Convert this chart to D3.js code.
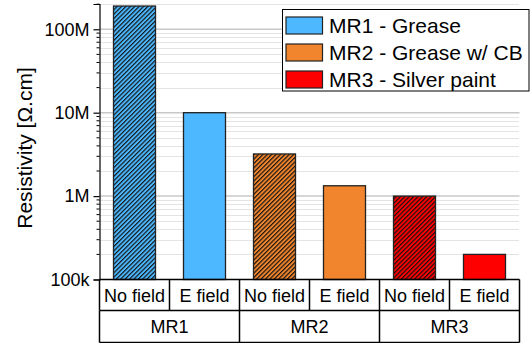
<!DOCTYPE html>
<html>
<head>
<meta charset="utf-8">
<script src="https://cdn.jsdelivr.net/npm/d3@7"></script>
<style>
  html, body { margin: 0; padding: 0; background: #fff; }
  svg { display: block; font-family: "Liberation Sans", Arial, sans-serif; }
</style>
</head>
<body>
<svg id="chart" width="530" height="343"></svg>
<script>
// Resistivity per sample and measurement condition
const samples = ["MR1", "MR2", "MR3"];
const conditions = ["No field", "E field"];
const legendLabels = ["MR1 - Grease", "MR2 - Grease w/ CB", "MR3 - Silver paint"];
const sampleColors = ["#4db8ff", "#f0852d", "#ff0000"];
const noFieldValues = [1.9e8, 3.2e6, 1.0e6];
const eFieldValues = [1.0e7, 1.33e6, 2.0e5];
const yTickValues = [1e5, 1e6, 1e7, 1e8];
const yTickLabels = ["100k", "1M", "10M", "100M"];

const bars = [];
samples.forEach((s, i) => {
  bars.push({ sample: s, cond: conditions[0], value: noFieldValues[i], color: sampleColors[i], hatched: true });
  bars.push({ sample: s, cond: conditions[1], value: eFieldValues[i], color: sampleColors[i], hatched: false });
});

const svg = d3.select("#chart");
const plotLeft = 99.5, plotRight = 519.5, plotTop = 4, plotBottom = 279.5;

const x = d3.scaleBand()
  .domain(bars.map(d => d.sample + "|" + d.cond))
  .range([plotLeft, plotRight])
  .paddingInner(0).paddingOuter(0);
const barW = x.bandwidth() * 0.6;

const y = d3.scaleLog().domain([1e5, 2.01e8]).range([plotBottom, plotTop]);

// hatch patterns
const defs = svg.append("defs");
sampleColors.forEach((c, i) => {
  const p = defs.append("pattern")
    .attr("id", "hatch" + i)
    .attr("patternUnits", "userSpaceOnUse")
    .attr("width", 3.1).attr("height", 3.1)
    .attr("patternTransform", "rotate(45)");
  p.append("rect").attr("width", 3.1).attr("height", 3.1).attr("fill", c);
  p.append("line").attr("x1", 0.6).attr("y1", 0).attr("x2", 0.6).attr("y2", 3.1)
    .attr("stroke", "#111").attr("stroke-width", 1.15);
});

// grid lines
const minorVals = [];
for (let e = 5; e <= 8; e++) for (let m = 2; m <= 9; m++) {
  const v = m * Math.pow(10, e);
  if (v <= y.domain()[1]) minorVals.push(v);
}
svg.append("g").selectAll("line").data(minorVals).join("line")
  .attr("x1", plotLeft).attr("x2", plotRight)
  .attr("y1", d => Math.round(y(d)) + 0.5).attr("y2", d => Math.round(y(d)) + 0.5)
  .attr("stroke", "#c8c8c8").attr("stroke-width", 1).attr("stroke-dasharray", "1,1");
svg.append("g").selectAll("line").data(yTickValues.slice(1)).join("line")
  .attr("x1", plotLeft).attr("x2", plotRight)
  .attr("y1", d => y(d)).attr("y2", d => y(d))
  .attr("stroke", "#c8c8c8").attr("stroke-width", 1.5);

// bars
svg.append("g").selectAll("rect").data(bars).join("rect")
  .attr("x", d => x(d.sample + "|" + d.cond) + (x.bandwidth() - barW) / 2)
  .attr("y", d => y(d.value))
  .attr("width", barW)
  .attr("height", d => plotBottom - y(d.value))
  .attr("fill", d => d.hatched ? "url(#hatch" + samples.indexOf(d.sample) + ")" : d.color)
  .attr("stroke", "#222").attr("stroke-width", 1.3);

// y axis
const yAxis = d3.axisLeft(y)
  .tickValues(yTickValues)
  .tickFormat((d, i) => yTickLabels[i])
  .tickSize(6).tickPadding(4);
const ya = svg.append("g").attr("transform", `translate(${plotLeft},0)`).call(yAxis);
ya.select(".domain").attr("stroke", "#000").attr("stroke-width", 1.2);
ya.selectAll(".tick line").attr("stroke", "#000").attr("stroke-width", 1.2);
ya.selectAll(".tick text").attr("font-size", 18).attr("fill", "#000")
  .attr("font-family", "Liberation Sans, Arial, sans-serif");
// minor ticks
svg.append("g").selectAll("line").data(minorVals).join("line")
  .attr("x1", plotLeft - 3).attr("x2", plotLeft)
  .attr("y1", d => y(d)).attr("y2", d => y(d))
  .attr("stroke", "#000").attr("stroke-width", 1);

// y title
svg.append("text")
  .attr("transform", `translate(32,148) rotate(-90)`)
  .attr("text-anchor", "middle")
  .attr("font-size", 21)
  .text("Resistivity [Ω.cm]");

// category table
const row1 = plotBottom, row2 = 310.5, row3 = 342.5;
const tbl = svg.append("g").attr("stroke", "#000").attr("stroke-width", 1.5);
tbl.append("line").attr("x1", plotLeft).attr("x2", plotRight).attr("y1", row1).attr("y2", row1);
tbl.append("line").attr("x1", plotLeft).attr("x2", plotRight).attr("y1", row2).attr("y2", row2);
tbl.append("line").attr("x1", plotLeft).attr("x2", plotRight).attr("y1", row3).attr("y2", row3);
tbl.selectAll(".v1").data(bars).join("line")
  .attr("x1", d => x(d.sample + "|" + d.cond)).attr("x2", d => x(d.sample + "|" + d.cond))
  .attr("y1", row1).attr("y2", row2);
tbl.append("line").attr("x1", plotRight).attr("x2", plotRight).attr("y1", row1).attr("y2", row3);
samples.forEach(s => {
  const xs = x(s + "|" + conditions[0]);
  tbl.append("line").attr("x1", xs).attr("x2", xs).attr("y1", row2).attr("y2", row3);
});

svg.append("g").selectAll("text").data(bars).join("text")
  .attr("x", d => x(d.sample + "|" + d.cond) + x.bandwidth() / 2)
  .attr("y", (row1 + row2) / 2 + 6.5)
  .attr("text-anchor", "middle").attr("font-size", 18)
  .text(d => d.cond);
svg.append("g").selectAll("text").data(samples).join("text")
  .attr("x", s => x(s + "|" + conditions[0]) + x.bandwidth())
  .attr("y", (row2 + row3) / 2 + 6.5)
  .attr("text-anchor", "middle").attr("font-size", 18)
  .text(s => s);

// legend
const lg = svg.append("g");
lg.append("rect").attr("x", 282.5).attr("y", 9.5).attr("width", 246.5).attr("height", 81.5)
  .attr("fill", "#fff").attr("stroke", "#000").attr("stroke-width", 1);
legendLabels.forEach((t, i) => {
  const cy = 25.5 + i * 27;
  lg.append("rect").attr("x", 286).attr("y", cy - 8.5).attr("width", 36.5).attr("height", 17)
    .attr("fill", sampleColors[i]).attr("stroke", "#222").attr("stroke-width", 1.2);
  lg.append("text").attr("x", 329).attr("y", cy + 7.5).attr("font-size", 21).text(t);
});
</script>
</body>
</html>
